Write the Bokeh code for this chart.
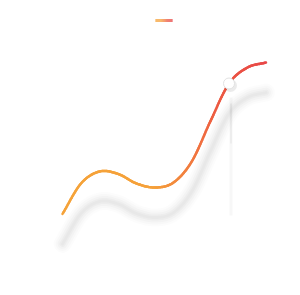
import numpy as np
from bokeh.plotting import figure
from bokeh.embed import file_html
from bokeh.resources import INLINE
from bokeh.models import Range1d

# ---- data ----
x_index = [0, 1, 2, 3, 4, 5, 6, 7, 8, 9, 10, 11]
values = [1, 20, 27.5, 26, 20, 17.5, 20.6, 34, 59, 82.5, 92.5, 95.6]
highlight_index = 9

# ---- style ----
PX_PER_X = 18.5
PX_PER_Y = 1.6
shadow_dy = -30 / PX_PER_Y

stops = [(0.0, "#f5a33a"), (0.45, "#f5a13a"), (0.68, "#f07040"),
         (0.76, "#ec5a42"), (1.0, "#e84848")]


def hex2rgb(h):
    return tuple(int(h[i:i + 2], 16) for i in (1, 3, 5))


def grad(f):
    f = min(max(f, 0.0), 1.0)
    for (a, ca), (b, cb) in zip(stops[:-1], stops[1:]):
        if a <= f <= b:
            t = 0 if b == a else (f - a) / (b - a)
            r1, g1, b1 = hex2rgb(ca)
            r2, g2, b2 = hex2rgb(cb)
            return "#%02x%02x%02x" % (round(r1 + (r2 - r1) * t),
                                      round(g1 + (g2 - g1) * t),
                                      round(b1 + (b2 - b1) * t))
    return stops[-1][1]


def smooth(xs, ys, n=20):
    xs = np.asarray(xs, float)
    ys = np.asarray(ys, float)
    m = len(xs)
    tx, ty = [], []
    for i in range(m - 1):
        p0 = max(i - 1, 0)
        p3 = min(i + 2, m - 1)
        m1 = (ys[i + 1] - ys[p0]) / (xs[i + 1] - xs[p0]) * (xs[i + 1] - xs[i])
        m2 = (ys[p3] - ys[i]) / (xs[p3] - xs[i]) * (xs[i + 1] - xs[i])
        for t in np.linspace(0, 1, n, endpoint=(i == m - 2)):
            h00 = 2 * t**3 - 3 * t**2 + 1
            h10 = t**3 - 2 * t**2 + t
            h01 = -2 * t**3 + 3 * t**2
            h11 = t**3 - t**2
            tx.append(xs[i] + t * (xs[i + 1] - xs[i]))
            ty.append(h00 * ys[i] + h10 * m1 + h01 * ys[i + 1] + h11 * m2)
    return np.array(tx), np.array(ty)


sx, sy = smooth(x_index, values)

x0px, y0px = 62, 215
p = figure(width=300, height=295, output_backend="svg", toolbar_location=None,
           x_range=Range1d(-x0px / PX_PER_X, (300 - x0px) / PX_PER_X),
           y_range=Range1d((y0px - 295) / PX_PER_Y, y0px / PX_PER_Y),
           min_border=0, outline_line_color=None)
p.axis.visible = False
p.grid.visible = False
p.background_fill_color = "white"
p.border_fill_color = "white"

# shadow (blurred look)
for w, a in [(18, 0.012), (14, 0.015), (10, 0.018), (6, 0.022), (3, 0.02)]:
    p.line(sx, sy + shadow_dy, line_color="black", line_alpha=a, line_width=w,
           line_cap="round", line_join="round")

# axis pointer shadow line
hx = x_index[highlight_index]
p.segment(x0=[hx + 2 / PX_PER_X], y0=[values[highlight_index] - 14 / PX_PER_Y],
          x1=[hx + 2 / PX_PER_X], y1=[0], line_color="black", line_alpha=0.03,
          line_width=3)
p.segment(x0=[hx + 2 / PX_PER_X], y0=[values[highlight_index] - 20 / PX_PER_Y],
          x1=[hx + 2 / PX_PER_X], y1=[values[highlight_index] - 60 / PX_PER_Y],
          line_color="black", line_alpha=0.04, line_width=2)

# gradient line
nmax = max(x_index)
colors = [grad(((a + b) / 2) / nmax) for a, b in zip(sx[:-1], sx[1:])]
p.segment(x0=sx[:-1], y0=sy[:-1], x1=sx[1:], y1=sy[1:], line_color=colors,
          line_width=2.5, line_cap="round")

# highlighted point
p.scatter([hx + 1.5 / PX_PER_X], [values[highlight_index] - 2 / PX_PER_Y], size=13,
          fill_color="black", fill_alpha=0.08, line_color=None)
p.scatter([hx], [values[highlight_index]], size=11, fill_color="white",
          line_color="#e2e2e2", line_width=1)

# legend icon (gradient)
lx0, lx1, ly = 155, 172, 20
lxs = np.linspace(lx0, lx1, 18)
p.segment(x0=(lxs[:-1] - x0px) / PX_PER_X, y0=[(y0px - ly) / PX_PER_Y] * 17,
          x1=(lxs[1:] - x0px) / PX_PER_X, y1=[(y0px - ly) / PX_PER_Y] * 17,
          line_color=["#f5a33a"] + [grad(0.2 + 0.8 * i / 16) for i in range(1, 17)],
          line_width=3)

open("out.html", "w").write(file_html(p, INLINE))
